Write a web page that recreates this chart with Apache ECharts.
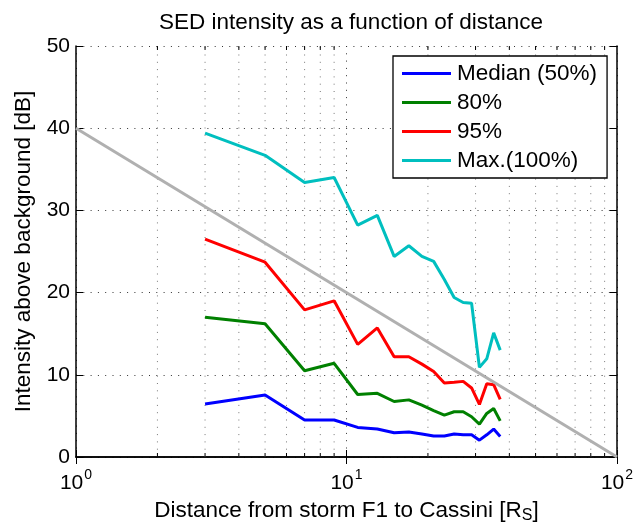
<!DOCTYPE html>
<html>
<head>
<meta charset="utf-8">
<script src="https://cdn.jsdelivr.net/npm/echarts@6/dist/echarts.min.js"></script>
<style>
  html, body { margin: 0; padding: 0; background: #fff; }
  #chart { width: 633px; height: 522px; }
</style>
</head>
<body>
<div id="chart"></div>
<script>
// Distance from storm F1 to Cassini, in Saturn radii
const distance = [3, 5, 7, 9, 11, 13, 15, 17, 19, 21, 23, 25, 27, 29, 31, 33, 35, 37];

// SED intensity above background [dB] per percentile
const median = [6.45, 7.55, 4.5, 4.5, 3.6, 3.4, 2.95, 3.05, 2.8, 2.55, 2.55, 2.8, 2.7, 2.7, 2.05, 2.7, 3.4, 2.5];
const p80 = [17.0, 16.2, 10.5, 11.4, 7.6, 7.75, 6.75, 6.95, 6.3, 5.65, 5.1, 5.5, 5.5, 4.9, 4.0, 5.3, 5.9, 4.4];
const p95 = [26.5, 23.7, 17.9, 19.0, 13.7, 15.7, 12.2, 12.2, 11.3, 10.4, 9.0, 9.1, 9.2, 8.4, 6.4, 8.9, 8.8, 7.0];
const pMax = [39.4, 36.7, 33.4, 34.0, 28.2, 29.4, 24.4, 25.7, 24.4, 23.8, 21.6, 19.4, 18.8, 18.7, 10.9, 11.95, 15.1, 13.0];

// Reference line: 40 dB at 1 R_S falling to 0 dB at 100 R_S
const refX = [1, 100];
const refY = [40, 0];

// Axis ranges and minor log positions
const xRange = [1, 100];
const yRange = [0, 50];
const yStep = 10;
const minorX = [2, 3, 4, 5, 6, 7, 8, 9, 20, 30, 40, 50, 60, 70, 80, 90];

const seriesNames = ['Median (50%)', '80%', '95%', 'Max.(100%)'];
const seriesValues = [median, p80, p95, pMax];
const seriesColors = ['#0000ff', '#008000', '#ff0000', '#00bfbf'];

const FONT = '"Liberation Sans", Arial, Helvetica, sans-serif';
const TEXT_SIZE = 22.5;
const zip = (xs, ys) => xs.map((x, i) => [x, ys[i]]);

const chart = echarts.init(document.getElementById('chart'), null, { renderer: 'canvas' });

const dotted = (color) => ({ color: color, width: 1, type: [1, 6.3] });

const lineSeries = seriesNames.map((name, i) => ({
  name: name,
  type: 'line',
  data: zip(distance, seriesValues[i]),
  showSymbol: false,
  symbol: 'none',
  lineStyle: { color: seriesColors[i], width: 3 },
  itemStyle: { color: seriesColors[i] },
  z: 3
}));

const option = {
  animation: false,
  backgroundColor: '#fff',
  textStyle: { fontFamily: FONT },
  title: {
    text: 'SED intensity as a function of distance',
    left: 346,
    textAlign: 'center',
    top: 6,
    textStyle: { fontFamily: FONT, fontSize: TEXT_SIZE, fontWeight: 'normal', color: '#000' }
  },
  legend: {
    data: seriesNames,
    orient: 'vertical',
    left: 393,
    top: 56,
    icon: 'rect',
    itemWidth: 49,
    itemHeight: 3,
    itemGap: 6,
    padding: [6, 10, 6, 9],
    borderColor: '#000',
    borderWidth: 1.3,
    backgroundColor: '#fff',
    textStyle: { fontFamily: FONT, fontSize: TEXT_SIZE, lineHeight: 22, color: '#000', padding: [0, 0, 0, 1] }
  },
  grid: { left: 76, right: 16, top: 46, bottom: 65, containLabel: false, outerBoundsMode: 'none' },
  xAxis: [
    {
      type: 'log',
      logBase: 10,
      min: xRange[0],
      max: xRange[1],
      position: 'bottom',
      name: 'Distance from storm F1 to Cassini [R{sub|S}]',
      nameLocation: 'middle',
      nameGap: 37,
      nameTextStyle: {
        fontFamily: FONT, fontSize: TEXT_SIZE, color: '#000',
        rich: { sub: { fontFamily: FONT, fontSize: 16, color: '#000', padding: [11, 0, 0, 0] } }
      },
      axisLine: { show: true, lineStyle: { color: '#000', width: 1.5 } },
      axisTick: { show: true, inside: true, length: 7, lineStyle: { color: '#000', width: 1 } },
      axisLabel: {
        margin: 11,
        formatter: (v) => '{b|10}{s|' + Math.round(Math.log10(v)) + '}',
        rich: {
          b: { fontFamily: FONT, fontSize: 21, color: '#000', lineHeight: 26, verticalAlign: 'bottom' },
          s: { fontFamily: FONT, fontSize: 14, color: '#000', lineHeight: 26, verticalAlign: 'top', padding: [0, 0, 0, 1] }
        }
      },
      splitLine: { show: true, lineStyle: dotted('#333') }
    },
    {
      type: 'log',
      logBase: 10,
      min: xRange[0],
      max: xRange[1],
      position: 'top',
      axisLine: { show: true, lineStyle: { color: '#000', width: 1.5 } },
      axisTick: { show: true, inside: true, length: 7, lineStyle: { color: '#000', width: 1 } },
      axisLabel: { show: false },
      splitLine: { show: false }
    }
  ],
  yAxis: [
    {
      type: 'value',
      min: yRange[0],
      max: yRange[1],
      interval: yStep,
      position: 'left',
      name: 'Intensity above background [dB]',
      nameLocation: 'middle',
      nameGap: 36,
      nameTextStyle: { fontFamily: FONT, fontSize: TEXT_SIZE, color: '#000' },
      axisLine: { show: true, lineStyle: { color: '#000', width: 1.5 } },
      axisTick: { show: true, inside: true, length: 7, lineStyle: { color: '#000', width: 1 } },
      axisLabel: { fontFamily: FONT, fontSize: 21, color: '#000', margin: 6 },
      splitLine: { show: true, lineStyle: dotted('#333') }
    },
    {
      type: 'value',
      min: yRange[0],
      max: yRange[1],
      interval: yStep,
      position: 'right',
      axisLine: { show: true, lineStyle: { color: '#000', width: 1.5 } },
      axisTick: { show: true, inside: true, length: 7, lineStyle: { color: '#000', width: 1 } },
      axisLabel: { show: false },
      splitLine: { show: false }
    }
  ],
  series: [
    {
      // minor log gridlines with short inward ticks on the bottom and top edges
      type: 'custom',
      silent: true,
      z: 1,
      data: minorX.map((x) => [x, yRange[0]]),
      encode: { x: 0, y: 1 },
      renderItem: (params, api) => {
        const x = api.value(0);
        const lo = api.coord([x, yRange[0]]);
        const hi = api.coord([x, yRange[1]]);
        return {
          type: 'group',
          children: [
            { type: 'line', shape: { x1: lo[0], y1: lo[1], x2: hi[0], y2: hi[1] }, style: { stroke: '#777', lineWidth: 1, lineDash: [1, 6.3] } },
            { type: 'line', shape: { x1: lo[0], y1: lo[1], x2: lo[0], y2: lo[1] - 4 }, style: { stroke: '#000', lineWidth: 1 } },
            { type: 'line', shape: { x1: hi[0], y1: hi[1], x2: hi[0], y2: hi[1] + 4 }, style: { stroke: '#000', lineWidth: 1 } }
          ]
        };
      }
    },
    ...lineSeries,
    {
      name: 'reference',
      type: 'line',
      data: zip(refX, refY),
      showSymbol: false,
      symbol: 'none',
      lineStyle: { color: '#b0b0b0', width: 3 },
      z: 4
    }
  ]
};

chart.setOption(option);
</script>
</body>
</html>
